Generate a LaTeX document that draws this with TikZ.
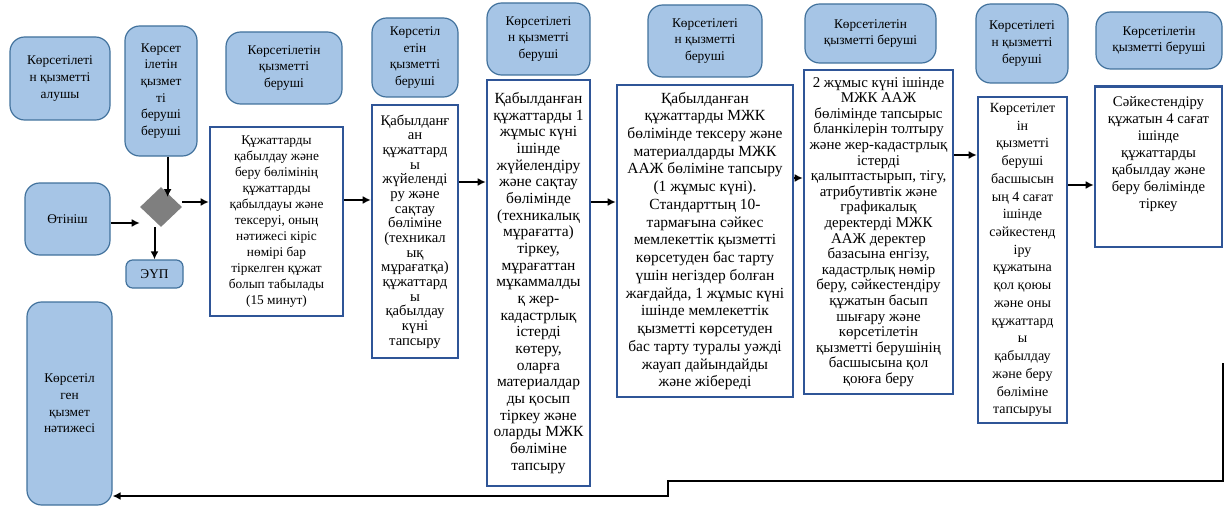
\documentclass[tikz,border=0pt]{standalone}
\usepackage{fontspec}
\setmainfont{Liberation Serif}
\usepackage{tikz}
\usetikzlibrary{shapes.geometric,arrows.meta}

\definecolor{hdrfill}{RGB}{166,197,230}
\definecolor{hdrline}{RGB}{65,113,156}
\definecolor{stageline}{RGB}{47,85,151}
\definecolor{diafill}{RGB}{127,127,127}

\tikzset{
  hdr/.style={draw=hdrline, fill=hdrfill, line width=0.9pt, rounded corners=11pt,
    align=center, inner sep=1pt, font=\fontsize{10}{12.5}\selectfont},
  stage/.style={draw=stageline, fill=white, line width=1.9pt, align=center,
    inner sep=1pt},
  arr/.style={line width=1.5pt, -{Latex[length=6pt,width=6pt]}},
}

\begin{document}
\begin{tikzpicture}[x=0.75pt,y=0.75pt,yscale=-1,xscale=1]
\useasboundingbox (0,0) rectangle (1225,510);

%Rounded Rect
\node [hdr, minimum width=75pt, minimum height=62.25pt] (recv) at (60,78.5) {Көрсетілеті\\н қызметті\\алушы};
%Rounded Rect
\node [hdr, minimum width=54pt, minimum height=97.5pt] (prov0) at (161,91) {Көрсет\\ілетін\\қызмет\\ті\\беруші\\беруші};
%Rounded Rect
\node [hdr, minimum width=63.75pt, minimum height=54pt] (app) at (67.5,219) {Өтініш};
%Rounded Rect
\node [hdr, rounded corners=5pt, minimum width=42.75pt, minimum height=21pt] (eup) at (154.5,274) {ЭҮП};
%Shape: Diamond
\node [diamond, fill=diafill, inner sep=0pt, minimum width=31.5pt, minimum height=30pt] (dia) at (161,207) {};
%Rounded Rect
\node [hdr, minimum width=63.75pt, minimum height=152.25pt] (res) at (69.5,403.5) {Көрсетіл\\ген\\қызмет\\нәтижесі};

%Rounded Rect
\node [hdr, minimum width=87pt, minimum height=54pt] (h1) at (284,68) {Көрсетілетін\\қызметті\\беруші};
\node [hdr, minimum width=64.5pt, minimum height=59.25pt] (h2) at (415,57.5) {Көрсетіл\\етін\\қызметті\\беруші};
\node [hdr, minimum width=77.25pt, minimum height=54pt] (h3) at (538.5,39) {Көрсетілеті\\н қызметті\\беруші};
\node [hdr, minimum width=85.5pt, minimum height=54pt] (h4) at (705,41) {Көрсетілеті\\н қызметті\\беруші};
\node [hdr, minimum width=98.25pt, minimum height=44.25pt] (h5) at (870.5,33.5) {Көрсетілетін\\қызметті беруші};
\node [hdr, minimum width=69pt, minimum height=59.25pt] (h6) at (1022,43.5) {Көрсетілеті\\н қызметті\\беруші};
\node [hdr, minimum width=94.5pt, minimum height=42.75pt] (h7) at (1159,40.5) {Көрсетілетін\\қызметті беруші};

% Text Node
\node [stage, font=\fontsize{10}{12}\selectfont, minimum width=99.75pt, minimum height=141.75pt] (b1) at (276.5,221.5) {Құжаттарды\\қабылдау және\\беру бөлімінің\\құжаттарды\\қабылдауы және\\тексеруі, оның\\нәтижесі кіріс\\нөмірі бар\\тіркелген құжат\\болып табылады\\(15 минут)};
% Text Node
\node [stage, font=\fontsize{11}{11}\selectfont, minimum width=64.5pt, minimum height=189.75pt] (b2) at (415,231.5) {Қабылданғ\\ан\\құжаттард\\ы\\жүйеленді\\ру және\\сақтау\\бөліміне\\(техникал\\ық\\мұрағатқа)\\құжаттард\\ы\\қабылдау\\күні\\тапсыру};
% Text Node
\node [stage, font=\fontsize{11.6}{12.5}\selectfont, minimum width=77.25pt, minimum height=304.5pt] (b3) at (538.5,283) {Қабылданған\\құжаттарды 1\\жұмыс күні\\ішінде\\жүйелендіру\\және сақтау\\бөлімінде\\(техникалық\\мұрағатта)\\тіркеу,\\мұрағаттан\\мұкаммалды\\қ жер-\\кадастрлық\\істерді\\көтеру,\\оларға\\материалдар\\ды қосып\\тіркеу және\\оларды МЖК\\бөліміне\\тапсыру};
% Text Node
\node [stage, font=\fontsize{11.6}{13.3}\selectfont, minimum width=132pt, minimum height=234pt] (b4) at (705,241) {Қабылданған\\құжаттарды МЖК\\бөлімінде тексеру және\\материалдарды МЖК\\ААЖ бөліміне тапсыру\\(1 жұмыс күні).\\Стандарттың 10-\\тармағына сәйкес\\мемлекеттік қызметті\\көрсетуден бас тарту\\үшін негіздер болған\\жағдайда, 1 жұмыс күні\\ішінде мемлекеттік\\қызметті көрсетуден\\бас тарту туралы уәжді\\жауап дайындайды\\және жібереді};
% Text Node
\node [stage, font=\fontsize{11.2}{11.7}\selectfont, minimum width=111.75pt, minimum height=243pt] (b5) at (878.5,232) {2 жұмыс күні ішінде\\МЖК ААЖ\\бөлімінде тапсырыс\\бланкілерін толтыру\\және жер-кадастрлық\\істерді\\қалыптастырып, тігу,\\атрибутивтік және\\графикалық\\деректерді МЖК\\ААЖ деректер\\базасына енгізу,\\кадастрлық нөмір\\беру, сәйкестендіру\\құжатын басып\\шығару және\\көрсетілетін\\қызметті берушінің\\басшысына қол\\қоюға беру};
% Text Node
\node [stage, font=\fontsize{10.5}{13.3}\selectfont, minimum width=66.75pt, minimum height=244.5pt] (b6) at (1022.5,260) {Көрсетілет\\ін\\қызметті\\беруші\\басшысын\\ың 4 сағат\\ішінде\\сәйкестенд\\іру\\құжатына\\қол қоюы\\және оны\\құжаттард\\ы\\қабылдау\\және беру\\бөліміне\\тапсыруы};
% Text Node
\node [stage, font=\fontsize{11}{12.75}\selectfont, anchor=north, inner xsep=1pt, inner ysep=8pt, text depth=20.5pt, minimum width=95.25pt] (b7) at (1158.5,85) {Сәйкестендіру\\құжатын 4 сағат\\ішінде\\құжаттарды\\қабылдау және\\беру бөлімінде\\тіркеу};

%Straight Lines
\draw [arr] ([xshift=5pt]prov0.south) -- ([xshift=5pt]dia.center |- 0,197);
\draw [arr] (app.east |- 0,223) -- (dia.west |- 0,223);
\draw [arr] (dia.south -| eup.north) -- (eup.north);
\draw [arr] (dia.east |- 0,202) -- (b1.west |- 0,202);
\draw [arr] (b1.east |- 0,200) -- (b2.west |- 0,200);
\draw [arr] (b2.east |- 0,182) -- (b3.west |- 0,182);
\draw [arr] (b3.east |- 0,202) -- (b4.west |- 0,202);
\draw [arr] (b4.east |- 0,178) -- (b5.west |- 0,178);
\draw [arr] (b5.east |- 0,155) -- (b6.west |- 0,155);
\draw [arr] (b6.east |- 0,185) -- (b7.west |- 0,185);

%Return line
\coordinate (ret) at (1223,363);
\draw [arr, line width=1.8pt] (ret) |- (668,481) |- (res.east |- 0,496);

\end{tikzpicture}
\end{document}
